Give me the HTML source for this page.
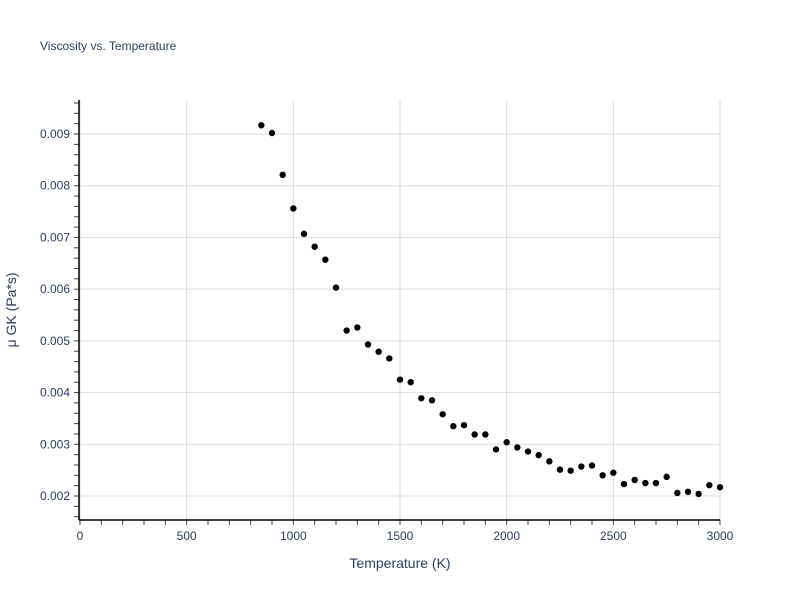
<!DOCTYPE html>
<html><head><meta charset="utf-8"><style>body{margin:0;background:#fff}svg{font-family:"Liberation Sans",sans-serif}</style></head>
<body>
<svg id="c" width="800" height="600">
<text x="40" y="50" font-size="12" fill="#2a3f5f">Viscosity vs. Temperature</text>
<g id="grid"></g><g id="axes"></g><g id="pts"></g>
<text x="400" y="568" text-anchor="middle" font-size="14" fill="#2a3f5f">Temperature (K)</text>
<text transform="translate(16,310) rotate(-90)" text-anchor="middle" font-size="14" fill="#2a3f5f">μ GK (Pa*s)</text>
</svg>
<script>
const temps=[850,900,950,1000,1050,1100,1150,1200,1250,1300,1350,1400,1450,1500,1550,1600,1650,1700,1750,1800,1850,1900,1950,2000,2050,2100,2150,2200,2250,2300,2350,2400,2450,2500,2550,2600,2650,2700,2750,2800,2850,2900,2950,3000];
const visc=[0.00917,0.00902,0.00821,0.00756,0.00707,0.00682,0.00657,0.00603,0.00520,0.00526,0.00493,0.00479,0.00466,0.00425,0.00420,0.00389,0.00385,0.00358,0.00335,0.00337,0.00319,0.00319,0.00290,0.00304,0.00294,0.00286,0.00279,0.00267,0.00251,0.00249,0.00257,0.00259,0.00240,0.00245,0.00223,0.00231,0.00225,0.00225,0.00237,0.00206,0.00208,0.00204,0.00221,0.00217];
const xTicks=[0,500,1000,1500,2000,2500,3000];
const yTicks=[0.002,0.003,0.004,0.005,0.006,0.007,0.008,0.009];
const NS='http://www.w3.org/2000/svg';
const X=v=>80+v*640/3000;
const Y=v=>496-(v-0.002)*51710;
function mk(t,a,p){const e=document.createElementNS(NS,t);for(const k in a)e.setAttribute(k,a[k]);document.getElementById(p).appendChild(e);return e;}
xTicks.forEach(t=>{
 const l=mk('line',{x1:X(t),x2:X(t),y1:100,y2:520,stroke:'#ddd'},'grid');
 
 
 const s=mk('text',{x:X(t),y:540,'text-anchor':'middle','font-size':12,fill:'#2a3f5f'},'axes');s.textContent=t;
 
 
});
yTicks.forEach(t=>{
 const l=mk('line',{x1:80,x2:720,y1:Y(t),y2:Y(t),stroke:'#ddd'},'grid');
 
 
 const s=mk('text',{x:70,y:Y(t)+4,'text-anchor':'end','font-size':12,fill:'#2a3f5f'},'axes');s.textContent=t.toFixed(3);
 
 
});
for(let t=0;t<=3000;t+=100){mk('line',{x1:X(t),x2:X(t),y1:520,y2:525,stroke:'#444'},'axes');}
for(let v=0.0016;v<=0.00961;v+=0.0002){mk('line',{x1:74,x2:79,y1:Y(v),y2:Y(v),stroke:'#444'},'axes');}
const ax=mk('line',{x1:79,x2:720,y1:520,y2:520,stroke:'#000','stroke-width':1.5},'axes');


const ay=mk('line',{x1:79,x2:79,y1:100,y2:520,stroke:'#000','stroke-width':1.5},'axes');


temps.forEach((t,i)=>{
 const c=mk('circle',{cx:X(t),cy:Y(visc[i]),r:3.2,fill:'#000'},'pts');
 
 
});
</script>
</body></html>
